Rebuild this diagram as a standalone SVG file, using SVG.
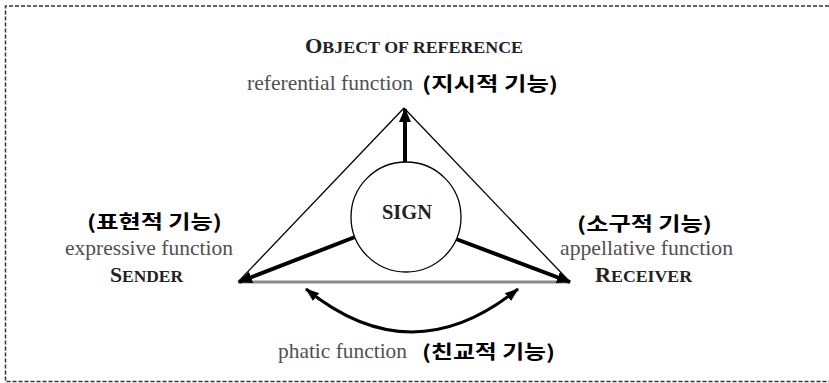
<svg xmlns="http://www.w3.org/2000/svg" width="829" height="383" viewBox="0 0 829 383">
  <style>
    .serif { font-family: "Liberation Serif", "Times New Roman", serif; }
    .fn { font-size: 22px; fill: #505050; }
    .cap { fill: #222222; font-weight: bold; }
    .ko { font-family: "Noto Sans CJK KR", "Noto Sans", sans-serif; font-weight: bold; font-size: 19px; fill: #000000; }
    .edge { stroke: #000; stroke-width: 1.3; fill: none; }
    .thick { stroke: #000; stroke-width: 4; fill: none; }
  </style>
  <defs>
    <marker id="ah" markerUnits="userSpaceOnUse" markerWidth="14" markerHeight="14" viewBox="0 0 14 14" refX="13" refY="7" orient="auto">
      <path d="M0,1 L14,7 L0,13 Z" fill="#000"/>
    </marker>
    <marker id="ah2" markerUnits="userSpaceOnUse" markerWidth="14" markerHeight="14" viewBox="0 0 14 14" refX="13" refY="7" orient="auto-start-reverse">
      <path d="M0,2 L14,7 L0,12 Z" fill="#000"/>
    </marker>
  </defs>
  <rect width="829" height="383" fill="#ffffff"/>
  <!-- dashed frame -->
  <g id="frame" stroke="#333" stroke-width="1.5" stroke-dasharray="4,2" fill="none">
    <path d="M829,6 L5.5,6 L5.5,381.5 L829,381.5"/>
  </g>

  <!-- triangle -->
  <g id="triangle">
    <line class="edge" x1="404" y1="108" x2="238" y2="282"/>
    <line class="edge" x1="404" y1="108" x2="570" y2="282"/>
    <line x1="238" y1="282" x2="570" y2="282" stroke="#8a8a8a" stroke-width="3"/>
  </g>

  <g id="connectors">
    <line class="thick" x1="405" y1="162" x2="405" y2="109" marker-end="url(#ah)"/>
    <line class="thick" x1="355" y1="237" x2="239" y2="282" marker-end="url(#ah)"/>
    <line class="thick" x1="456" y1="239" x2="570" y2="282" marker-end="url(#ah)"/>
    <path d="M306,289 Q412,375 518,289" stroke="#000" stroke-width="3" fill="none" marker-start="url(#ah2)" marker-end="url(#ah2)"/>
  </g>

  <g id="sign">
    <circle cx="406" cy="217" r="55" fill="#fff" stroke="#000" stroke-width="1.3"/>
    <text class="serif cap" x="382" y="219" font-size="20" textLength="50" lengthAdjust="spacingAndGlyphs">SIGN</text>
  </g>

  <g id="object">
    <text class="serif cap" x="305" y="53" textLength="218" lengthAdjust="spacingAndGlyphs"><tspan font-size="20">O</tspan><tspan font-size="16">BJECT OF REFERENCE</tspan></text>
    <text class="serif fn" x="247" y="90" textLength="166" lengthAdjust="spacingAndGlyphs">referential function</text>
    <text class="ko" x="422" y="91" textLength="136" lengthAdjust="spacingAndGlyphs">(지시적 기능)</text>
  </g>

  <g id="sender">
    <text class="ko" x="87" y="229" textLength="135" lengthAdjust="spacingAndGlyphs">(표현적 기능)</text>
    <text class="serif fn" x="65" y="255" textLength="168" lengthAdjust="spacingAndGlyphs">expressive function</text>
    <text class="serif cap" x="110" y="282" textLength="73" lengthAdjust="spacingAndGlyphs"><tspan font-size="20">S</tspan><tspan font-size="16">ENDER</tspan></text>
  </g>

  <g id="receiver">
    <text class="ko" x="577" y="231" textLength="135" lengthAdjust="spacingAndGlyphs">(소구적 기능)</text>
    <text class="serif fn" x="560" y="255" textLength="173" lengthAdjust="spacingAndGlyphs">appellative function</text>
    <text class="serif cap" x="595" y="282" textLength="97" lengthAdjust="spacingAndGlyphs"><tspan font-size="20">R</tspan><tspan font-size="16">ECEIVER</tspan></text>
  </g>

  <g id="contact">
    <text class="serif fn" x="278" y="358" textLength="129" lengthAdjust="spacingAndGlyphs">phatic function</text>
    <text class="ko" x="422" y="359" textLength="133" lengthAdjust="spacingAndGlyphs">(친교적 기능)</text>
  </g>
</svg>
